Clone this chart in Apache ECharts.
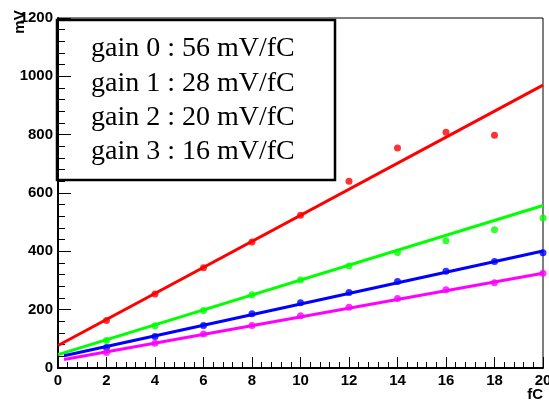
<!DOCTYPE html>
<html>
<head>
<meta charset="utf-8">
<script src="https://cdn.jsdelivr.net/npm/echarts@6/dist/echarts.min.js"></script>
<style>
  html, body { margin: 0; padding: 0; background: #fff; }
  #chart { width: 549px; height: 401px; }
</style>
</head>
<body>
<div id="chart"></div>
<script>
// Injected charge (fC) for each measurement
const charge = [2, 4, 6, 8, 10, 12, 14, 16, 18, 20];

// Measured amplitudes (mV) for each gain setting
const gain0 = [163, 254, 344, 432, 524, 640, 754, 808, 798];
const gain1 = [94, 145, 197, 251, 302, 350, 396, 436, 474, 514];
const gain2 = [70, 108, 146, 186, 224, 259, 297, 332, 365, 395];
const gain3 = [53, 85, 117, 146, 179, 208, 238, 268, 292, 325];

// Linear fit end points: [charge, mV]
const fit0 = [[0, 77], [20, 970]];
const fit1 = [[0, 46], [20, 557]];
const fit2 = [[0.25, 42], [20, 401]];
const fit3 = [[0.25, 29], [20, 325]];

// Gain annotations
const gainLabels = [
  'gain 0 : 56 mV/fC',
  'gain 1 : 28 mV/fC',
  'gain 2 : 20 mV/fC',
  'gain 3 : 16 mV/fC'
];

// Axis settings
const xMin = 0, xMax = 20, xStep = 2;
const yMin = 0, yMax = 1200, yStep = 200;
const xTitle = 'fC';
const yTitle = 'mV';

const colors = ['#ff0000', '#00ff00', '#0000ff', '#ff00ff'];
const measured = [gain0, gain1, gain2, gain3];
const fits = [fit0, fit1, fit2, fit3];

const labelFont = {
  fontFamily: 'Liberation Sans, Arial, sans-serif',
  fontWeight: 'bold',
  fontSize: 15,
  color: '#000',
  formatter: (v) => String(v)
};

const series = [];
fits.forEach((f, i) => {
  series.push({
    type: 'line',
    data: f,
    showSymbol: false,
    silent: true,
    lineStyle: { color: colors[i], width: 3 },
    z: 2
  });
});
measured.forEach((vals, i) => {
  series.push({
    type: 'scatter',
    data: vals.map((v, k) => [charge[k], v]),
    symbol: 'circle',
    symbolSize: 7,
    itemStyle: { color: colors[i] },
    z: 3
  });
});

const chart = echarts.init(document.getElementById('chart'), null, { renderer: 'canvas' });

const graphics = [
  {
    type: 'rect',
    shape: { x: 57, y: 20, width: 278, height: 160 },
    style: { fill: 'rgba(0,0,0,0)', stroke: '#000', lineWidth: 2.5 },
    z: 10
  },
  {
    type: 'text',
    x: 20, y: 22,
    rotation: Math.PI / 2,
    style: {
      text: yTitle,
      font: 'bold 15px "Liberation Sans", Arial, sans-serif',
      fill: '#000',
      align: 'center',
      verticalAlign: 'middle'
    },
    z: 10
  },
  {
    type: 'text',
    x: 543, y: 395,
    style: {
      text: xTitle,
      font: 'bold 15px "Liberation Sans", Arial, sans-serif',
      fill: '#000',
      align: 'right',
      verticalAlign: 'middle'
    },
    z: 10
  }
];
const rowY = [49, 83.3, 117.7, 151.5];
gainLabels.forEach((t, i) => {
  graphics.push({
    type: 'text',
    x: 91, y: rowY[i],
    style: {
      text: t,
      font: '28px "Liberation Serif", "Times New Roman", serif',
      fill: '#000',
      align: 'left',
      verticalAlign: 'middle'
    },
    z: 10
  });
});

chart.setOption({
  animation: false,
  backgroundColor: '#fff',
  grid: {
    left: 58, right: 6, top: 18, bottom: 33,
    outerBoundsMode: 'none',
    containLabel: false,
    show: true,
    borderColor: '#000',
    borderWidth: 1,
    backgroundColor: 'rgba(0,0,0,0)'
  },
  xAxis: {
    type: 'value',
    min: xMin, max: xMax, interval: xStep,
    axisLine: { show: true, onZero: false, lineStyle: { color: '#000', width: 2 } },
    axisTick: { show: true, inside: true, length: 11, lineStyle: { color: '#000', width: 1 } },
    minorTick: { show: true, splitNumber: 5, length: 6, lineStyle: { color: '#000', width: 1 } },
    axisLabel: Object.assign({ margin: 5, showMaxLabel: true, showMinLabel: true, hideOverlap: false }, labelFont),
    splitLine: { show: false }
  },
  yAxis: {
    type: 'value',
    min: yMin, max: yMax, interval: yStep,
    axisLine: { show: true, onZero: false, lineStyle: { color: '#000', width: 2 } },
    axisTick: { show: true, inside: true, length: 13, lineStyle: { color: '#000', width: 1 } },
    minorTick: { show: true, splitNumber: 5, length: 7, lineStyle: { color: '#000', width: 1 } },
    axisLabel: Object.assign({ margin: 5, showMaxLabel: true, showMinLabel: true, hideOverlap: false }, labelFont),
    splitLine: { show: false }
  },
  series: series,
  graphic: graphics
});
</script>
</body>
</html>
